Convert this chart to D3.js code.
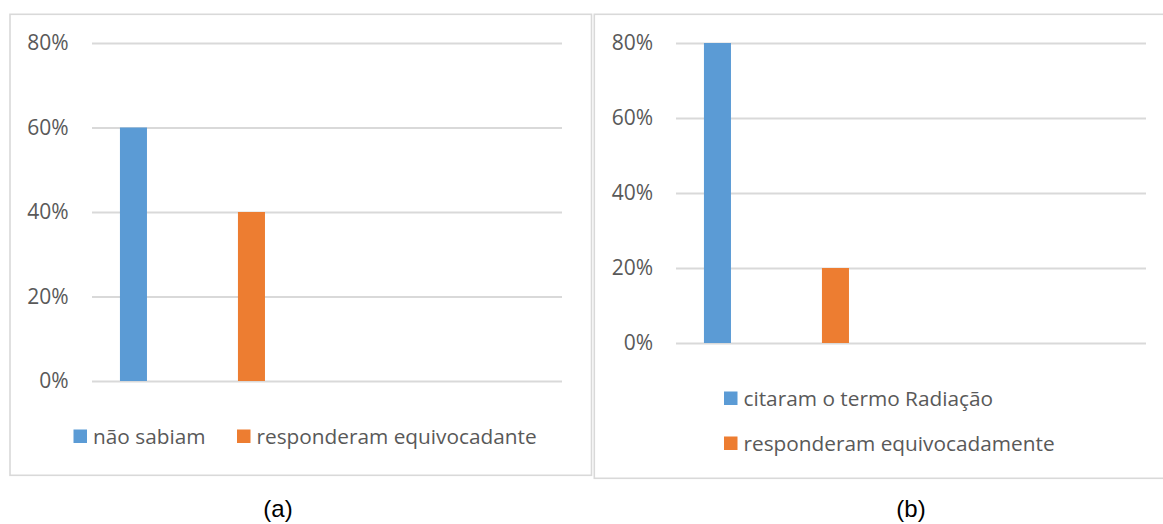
<!DOCTYPE html>
<html>
<head>
<meta charset="utf-8">
<script src="https://cdn.jsdelivr.net/npm/d3@7"></script>
<style>
  html, body { margin: 0; padding: 0; background: #fff; }
  svg { display: block; }
</style>
</head>
<body>
<svg id="chart" width="1163" height="524"></svg>
<script>
// Panel (a)
const seriesA = ["não sabiam", "responderam equivocadante"];
const valuesA = [0.60, 0.40];
// Panel (b)
const seriesB = ["citaram o termo Radiação", "responderam equivocadamente"];
const valuesB = [0.80, 0.20];
// Shared axis ticks
const tickValues = [0, 0.2, 0.4, 0.6, 0.8];
const colors = ["#5B9BD5", "#ED7D31"];
const captions = ["(a)", "(b)"];

const svg = d3.select("#chart");
const FONT = "'Open Sans', 'Noto Sans', sans-serif";
const TEXT = "#595959";
const GRID = "#d9d9d9";
const pct = d3.format(".0%");

function panel(cfg) {
  const g = svg.append("g");

  // frame
  g.append("rect")
    .attr("x", cfg.frame[0]).attr("y", cfg.frame[1])
    .attr("width", cfg.frame[2]).attr("height", cfg.frame[3])
    .attr("fill", "none").attr("stroke", GRID).attr("stroke-width", 1.6);

  const y = d3.scaleLinear().domain([0, 0.8]).range([cfg.y0, cfg.y1]);
  const x = d3.scaleBand().domain(cfg.series)
    .range([cfg.x0, cfg.x1])
    .paddingInner(0.771).paddingOuter(1.377).align(0.086);

  // gridlines + labels via axis
  const axis = d3.axisLeft(y).tickValues(tickValues).tickFormat(pct)
    .tickSize(-(cfg.x1 - cfg.x0)).tickPadding(cfg.labelGap);
  const ag = g.append("g").attr("transform", `translate(${cfg.x0},0)`).call(axis);
  ag.select(".domain").remove();
  ag.selectAll(".tick line").attr("stroke", GRID).attr("stroke-width", 1.8);
  ag.selectAll(".tick text")
    .attr("fill", TEXT).attr("font-family", FONT).attr("font-size", 21);

  // bars
  g.selectAll("rect.bar").data(cfg.series).join("rect")
    .attr("class", "bar")
    .attr("x", d => x(d))
    .attr("width", x.bandwidth())
    .attr("y", (d, i) => y(cfg.values[i]))
    .attr("height", (d, i) => y(0) - y(cfg.values[i]))
    .attr("fill", (d, i) => colors[i]);

  // legend
  const lg = g.selectAll("g.leg").data(cfg.series).join("g")
    .attr("class", "leg")
    .attr("transform", (d, i) => `translate(${cfg.legend[i][0]},${cfg.legend[i][1]})`);
  lg.append("rect").attr("x", 0).attr("y", -14).attr("width", 13.5).attr("height", 13.5)
    .attr("fill", (d, i) => colors[i]);
  lg.append("text").attr("x", 19.5).attr("y", 0)
    .attr("fill", TEXT).attr("font-family", FONT).attr("font-size", 20.8)
    .text(d => d);

  // caption
  svg.append("text")
    .attr("x", cfg.caption[0]).attr("y", cfg.caption[1])
    .attr("text-anchor", "middle")
    .attr("font-family", "'Liberation Sans', Arial, sans-serif")
    .attr("font-size", 24).attr("fill", "#000")
    .text(cfg.captionText);
}

panel({
  series: seriesA, values: valuesA,
  frame: [10, 14.3, 581.5, 461],
  x0: 92, x1: 562, y0: 381, y1: 43, labelGap: 23.5,
  legend: [[73.5, 443.5], [237, 443.5]],
  caption: [278, 517], captionText: captions[0]
});

panel({
  series: seriesB, values: valuesB,
  frame: [594.3, 14.3, 600, 464],
  x0: 676, x1: 1146, y0: 343, y1: 43, labelGap: 23,
  legend: [[724, 405.5], [724, 450.5]],
  caption: [911, 517], captionText: captions[1]
});
</script>
</body>
</html>
